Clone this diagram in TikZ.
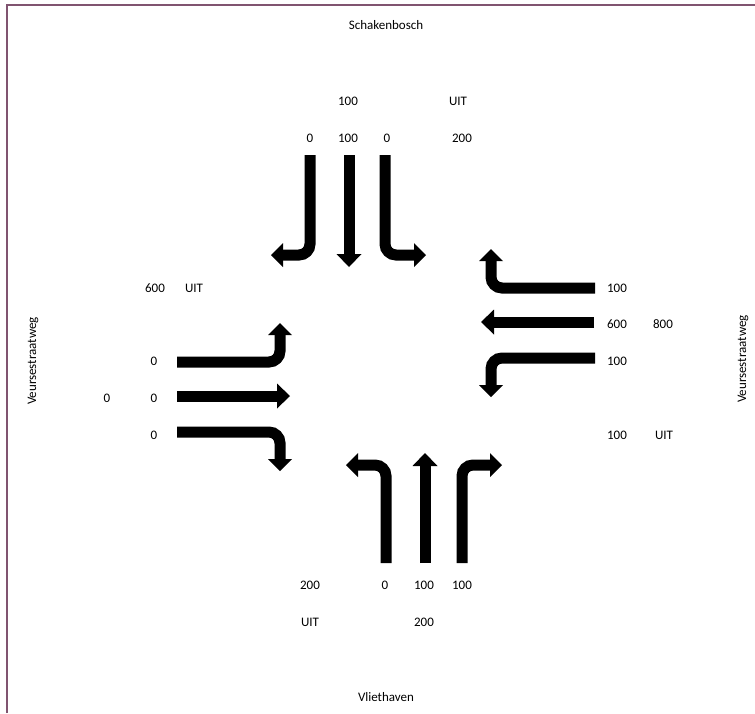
\documentclass[tikz,border=0pt]{standalone}
\usepackage{fontspec}
\setmainfont{Carlito}
\usetikzlibrary{arrows.meta}
\definecolor{framec}{RGB}{128,84,112}
\begin{document}
\begin{tikzpicture}[x=1pt,y=-1pt,
  lbl/.style={font=\fontsize{13}{15}\selectfont, inner sep=0pt},
  turnlane/.style={line width=11pt, line cap=butt, rounded corners=11pt, -{Triangle[length=12pt,width=24pt,line width=0pt]}},
  straightlane/.style={line width=11pt, line cap=butt, -{Triangle[length=13pt,width=25pt,line width=0pt]}},
  ]
\useasboundingbox (0,0) rectangle (755,713);
% frame
\coordinate (fbl) at (7,713);
\coordinate (ftl) at (7,5);
\coordinate (ftr) at (755,5);
\draw[framec, line width=2pt] (fbl) -- (ftl) -- (ftr);

% street names
\node[lbl] (schak) at (386,25) {Schakenbosch};
\node[lbl] (vliet) at (386,697) {Vliethaven};
\node[lbl, rotate=90] (veurW) at (33,361) {Veursestraatweg};
\node[lbl, rotate=90] (veurE) at (743,359) {Veursestraatweg};

% north numbers
\node[lbl] (n100a) at (348,101) {100};
\node[lbl] (nuit) at (458,101) {UIT};
\node[lbl] (n0a) at (310,138) {0};
\node[lbl] (n100b) at (348,138) {100};
\node[lbl] (n0b) at (387,138) {0};
\node[lbl] (n200) at (462,138) {200};

% west numbers
\node[lbl] (w600) at (155,288) {600};
\node[lbl] (wuit) at (194,288) {UIT};
\node[lbl] (w0a) at (154,361) {0};
\node[lbl] (w0tot) at (107,398) {0};
\node[lbl] (w0b) at (154,398) {0};
\node[lbl] (w0c) at (154,435) {0};

% east numbers
\node[lbl] (e100a) at (617,288) {100};
\node[lbl] (e600) at (617,324) {600};
\node[lbl] (e800) at (663,324) {800};
\node[lbl] (e100b) at (617,361) {100};
\node[lbl] (e100c) at (617,435) {100};
\node[lbl] (euit) at (664,435) {UIT};

% south numbers
\node[lbl] (s200) at (310,585) {200};
\node[lbl] (s0) at (385,585) {0};
\node[lbl] (s100a) at (424,585) {100};
\node[lbl] (s100b) at (462,585) {100};
\node[lbl] (suit) at (310,622) {UIT};
\node[lbl] (s200b) at (424,622) {200};

% lane arrow coordinates
\coordinate (t1s) at (310,155); \coordinate (t1e) at (271,255);
\coordinate (t2s) at (349,155); \coordinate (t2e) at (349,267);
\coordinate (t3s) at (385,155); \coordinate (t3e) at (426,255);
\coordinate (r1s) at (595,288); \coordinate (r1e) at (491,249);
\coordinate (r2s) at (594,322); \coordinate (r2e) at (481,322);
\coordinate (r3s) at (595,358); \coordinate (r3e) at (491,397);
\coordinate (l1s) at (177,362); \coordinate (l1e) at (280,323);
\coordinate (l2s) at (177,396); \coordinate (l2e) at (290,396);
\coordinate (l3s) at (177,432); \coordinate (l3e) at (280,471);
\coordinate (b1s) at (386,563); \coordinate (b1e) at (346,465);
\coordinate (b2s) at (425,563); \coordinate (b2e) at (425,453);
\coordinate (b3s) at (462,563); \coordinate (b3e) at (502,465);

% north approach
\draw[turnlane] (t1s) |- (t1e);
\draw[straightlane] (t2s) -- (t2e);
\draw[turnlane] (t3s) |- (t3e);
% east approach
\draw[turnlane] (r1s) -| (r1e);
\draw[straightlane] (r2s) -- (r2e);
\draw[turnlane] (r3s) -| (r3e);
% west approach
\draw[turnlane] (l1s) -| (l1e);
\draw[straightlane] (l2s) -- (l2e);
\draw[turnlane] (l3s) -| (l3e);
% south approach
\draw[turnlane] (b1s) |- (b1e);
\draw[straightlane] (b2s) -- (b2e);
\draw[turnlane] (b3s) |- (b3e);
\end{tikzpicture}
\end{document}
